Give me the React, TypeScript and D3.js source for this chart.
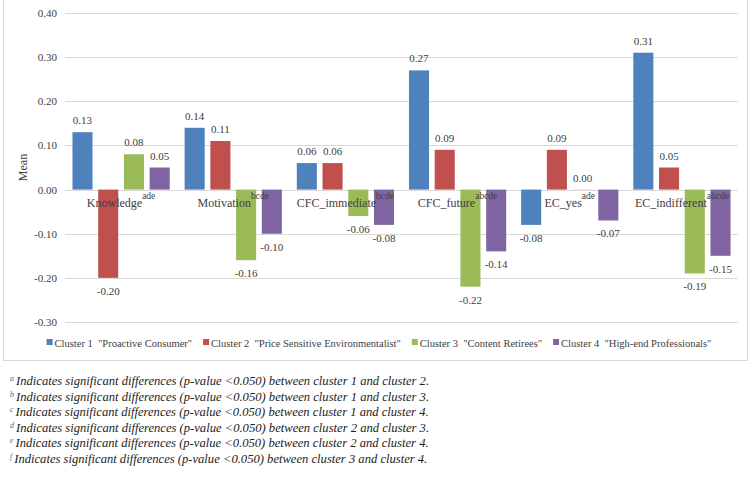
import { useRef, useEffect } from 'react';
import * as d3 from 'd3';

// factor means per cluster
const categories = ['Knowledge', 'Motivation', 'CFC_immediate', 'CFC_future', 'EC_yes', 'EC_indifferent'];
const sigLetters = ['ade', 'bcde', 'bcde', 'abcde', 'ade', 'abcde'];
const clusters = [
    'Cluster 1  "Proactive Consumer"',
    'Cluster 2  "Price Sensitive Environmentalist"',
    'Cluster 3  "Content Retirees"',
    'Cluster 4  "High-end Professionals"',
];
const cluster1 = [0.13, 0.14, 0.06, 0.27, -0.08, 0.31];
const cluster2 = [-0.20, 0.11, 0.06, 0.09, 0.09, 0.05];
const cluster3 = [0.08, -0.16, -0.06, -0.22, 0.00, -0.19];
const cluster4 = [0.05, -0.10, -0.08, -0.14, -0.07, -0.15];
const yTicks = [0.4, 0.3, 0.2, 0.1, 0, -0.1, -0.2, -0.3];
const footnotes = [
    ['a', 'Indicates significant differences (p-value <0.050) between cluster 1 and cluster 2.'],
    ['b', 'Indicates significant differences (p-value <0.050) between cluster 1 and cluster 3.'],
    ['c', 'Indicates significant differences (p-value <0.050) between cluster 1 and cluster 4.'],
    ['d', 'Indicates significant differences (p-value <0.050) between cluster 2 and cluster 3.'],
    ['e', 'Indicates significant differences (p-value <0.050) between cluster 2 and cluster 4.'],
    ['f', 'Indicates significant differences (p-value <0.050) between cluster 3 and cluster 4.'],
];

const colors = ['#4F81BD', '#C0504D', '#9BBB59', '#8064A2'];
const font = 'Liberation Serif, DejaVu Serif, serif';
// plain hyphen for negatives, like the source table
const fmt = (v: number) => d3.format('.2f')(v).replace('\u2212', '-');

const App = () => {
    const svgRef = useRef<SVGSVGElement | null>(null);
    const w = 754;
    const h = 480;

    useEffect(() => {
        if (!svgRef.current) return;
        const svg = d3.select(svgRef.current);
        svg.selectAll('*').remove();

        const series = [cluster1, cluster2, cluster3, cluster4];

        // chart frame
        svg.append('rect')
            .attr('x', 3.5).attr('y', -5)
            .attr('width', 744).attr('height', 365.5)
            .attr('fill', '#fff')
            .attr('stroke', '#d9d9d9');

        const x0 = d3.scaleBand<string>().domain(categories).range([65, 738]).padding(0);
        const x1 = d3.scaleBand<number>()
            .domain([0, 1, 2, 3])
            .range([0, x0.bandwidth()])
            .paddingInner(0.22)
            .paddingOuter(0.29);
        const y = d3.scaleLinear().domain([-0.3, 0.4]).range([322, 13]);

        // gridlines + y labels
        const grid = svg.append('g');
        grid.selectAll('line')
            .data(yTicks)
            .join('line')
            .attr('x1', 65).attr('x2', 738)
            .attr('y1', d => Math.round(y(d)) + 0.5)
            .attr('y2', d => Math.round(y(d)) + 0.5)
            .attr('stroke', '#d9d9d9');
        grid.selectAll('text')
            .data(yTicks)
            .join('text')
            .attr('x', 57)
            .attr('y', d => y(d) + 4)
            .attr('text-anchor', 'end')
            .attr('font-family', font)
            .attr('font-size', 11)
            .attr('fill', '#404040')
            .text(d => fmt(d));

        svg.append('text')
            .attr('transform', `translate(27,${(y(0.4) + y(-0.3)) / 2}) rotate(-90)`)
            .attr('text-anchor', 'middle')
            .attr('font-family', font)
            .attr('font-size', 12)
            .attr('fill', '#404040')
            .text('Mean');

        // bars
        const groups = svg.append('g')
            .selectAll('g')
            .data(categories)
            .join('g')
            .attr('transform', d => `translate(${x0(d)},0)`);

        groups.selectAll('rect')
            .data((_d, i) => series.map((s, k) => ({ k, v: s[i] })))
            .join('rect')
            .attr('x', d => x1(d.k)!)
            .attr('width', x1.bandwidth())
            .attr('y', d => y(Math.max(0, d.v)))
            .attr('height', d => Math.max(0.8, Math.abs(y(d.v) - y(0))))
            .attr('fill', d => (d.v === 0 ? '#d8d8c8' : colors[d.k]));

        groups.selectAll('text.val')
            .data((_d, i) => series.map((s, k) => ({ k, v: s[i] })))
            .join('text')
            .attr('class', 'val')
            .attr('x', d => x1(d.k)! + x1.bandwidth() / 2)
            .attr('y', d => (d.v >= 0 ? y(d.v) - 8 : y(d.v) + 17))
            .attr('text-anchor', 'middle')
            .attr('font-family', font)
            .attr('font-size', 11)
            .attr('fill', '#404040')
            .text(d => fmt(d.v));

        // category labels with significance letters
        const labels = svg.append('g')
            .selectAll('text')
            .data(categories)
            .join('text')
            .attr('x', d => x0(d)! + x0.bandwidth() / 2)
            .attr('y', y(0) + 17)
            .attr('text-anchor', 'middle')
            .attr('font-family', font)
            .attr('font-size', 12)
            .attr('fill', '#404040');
        labels.append('tspan').text(d => d);
        labels.append('tspan')
            .attr('dy', -8)
            .attr('font-size', 9.5)
            .text((_d, i) => sigLetters[i]);

        // legend
        const legend = svg.append('g');
        const items = legend.selectAll('g')
            .data(clusters)
            .join('g');
        items.append('rect')
            .attr('y', 339)
            .attr('width', 6).attr('height', 6)
            .attr('fill', (_d, i) => colors[i]);
        items.append('text')
            .attr('x', 8)
            .attr('y', 347)
            .attr('font-family', font)
            .attr('font-size', 10.5)
            .style('white-space', 'pre')
            .attr('fill', '#404040')
            .text(d => d);
        const widths: number[] = [];
        items.select<SVGTextElement>('text').each(function () {
            widths.push(this.getComputedTextLength() + 8);
        });
        const gap = 11;
        const total = d3.sum(widths) + gap * (widths.length - 1);
        let cx = 379 - total / 2;
        items.attr('transform', (_d, i) => {
            const t = `translate(${cx},0)`;
            cx += widths[i] + gap;
            return t;
        });

        // footnotes
        const notes = svg.append('g')
            .selectAll('text')
            .data(footnotes)
            .join('text')
            .attr('x', 10)
            .attr('y', (_d, i) => 385 + i * 15.6)
            .attr('font-family', font)
            .attr('font-style', 'italic')
            .attr('font-size', 12.6)
            .attr('fill', '#222');
        notes.append('tspan')
            .attr('dy', -4)
            .attr('font-size', 8)
            .attr('fill', '#666')
            .text(d => d[0]);
        notes.append('tspan')
            .attr('dy', 4)
            .attr('dx', 2)
            .text(d => d[1]);
    }, []);

    return (
        <svg
            ref={svgRef}
            width={w}
            height={h}
            viewBox={`0 0 ${w} ${h}`}
            style={{ position: 'absolute', left: 0, top: 0, background: '#fff' }}
        />
    );
};

export default App;
